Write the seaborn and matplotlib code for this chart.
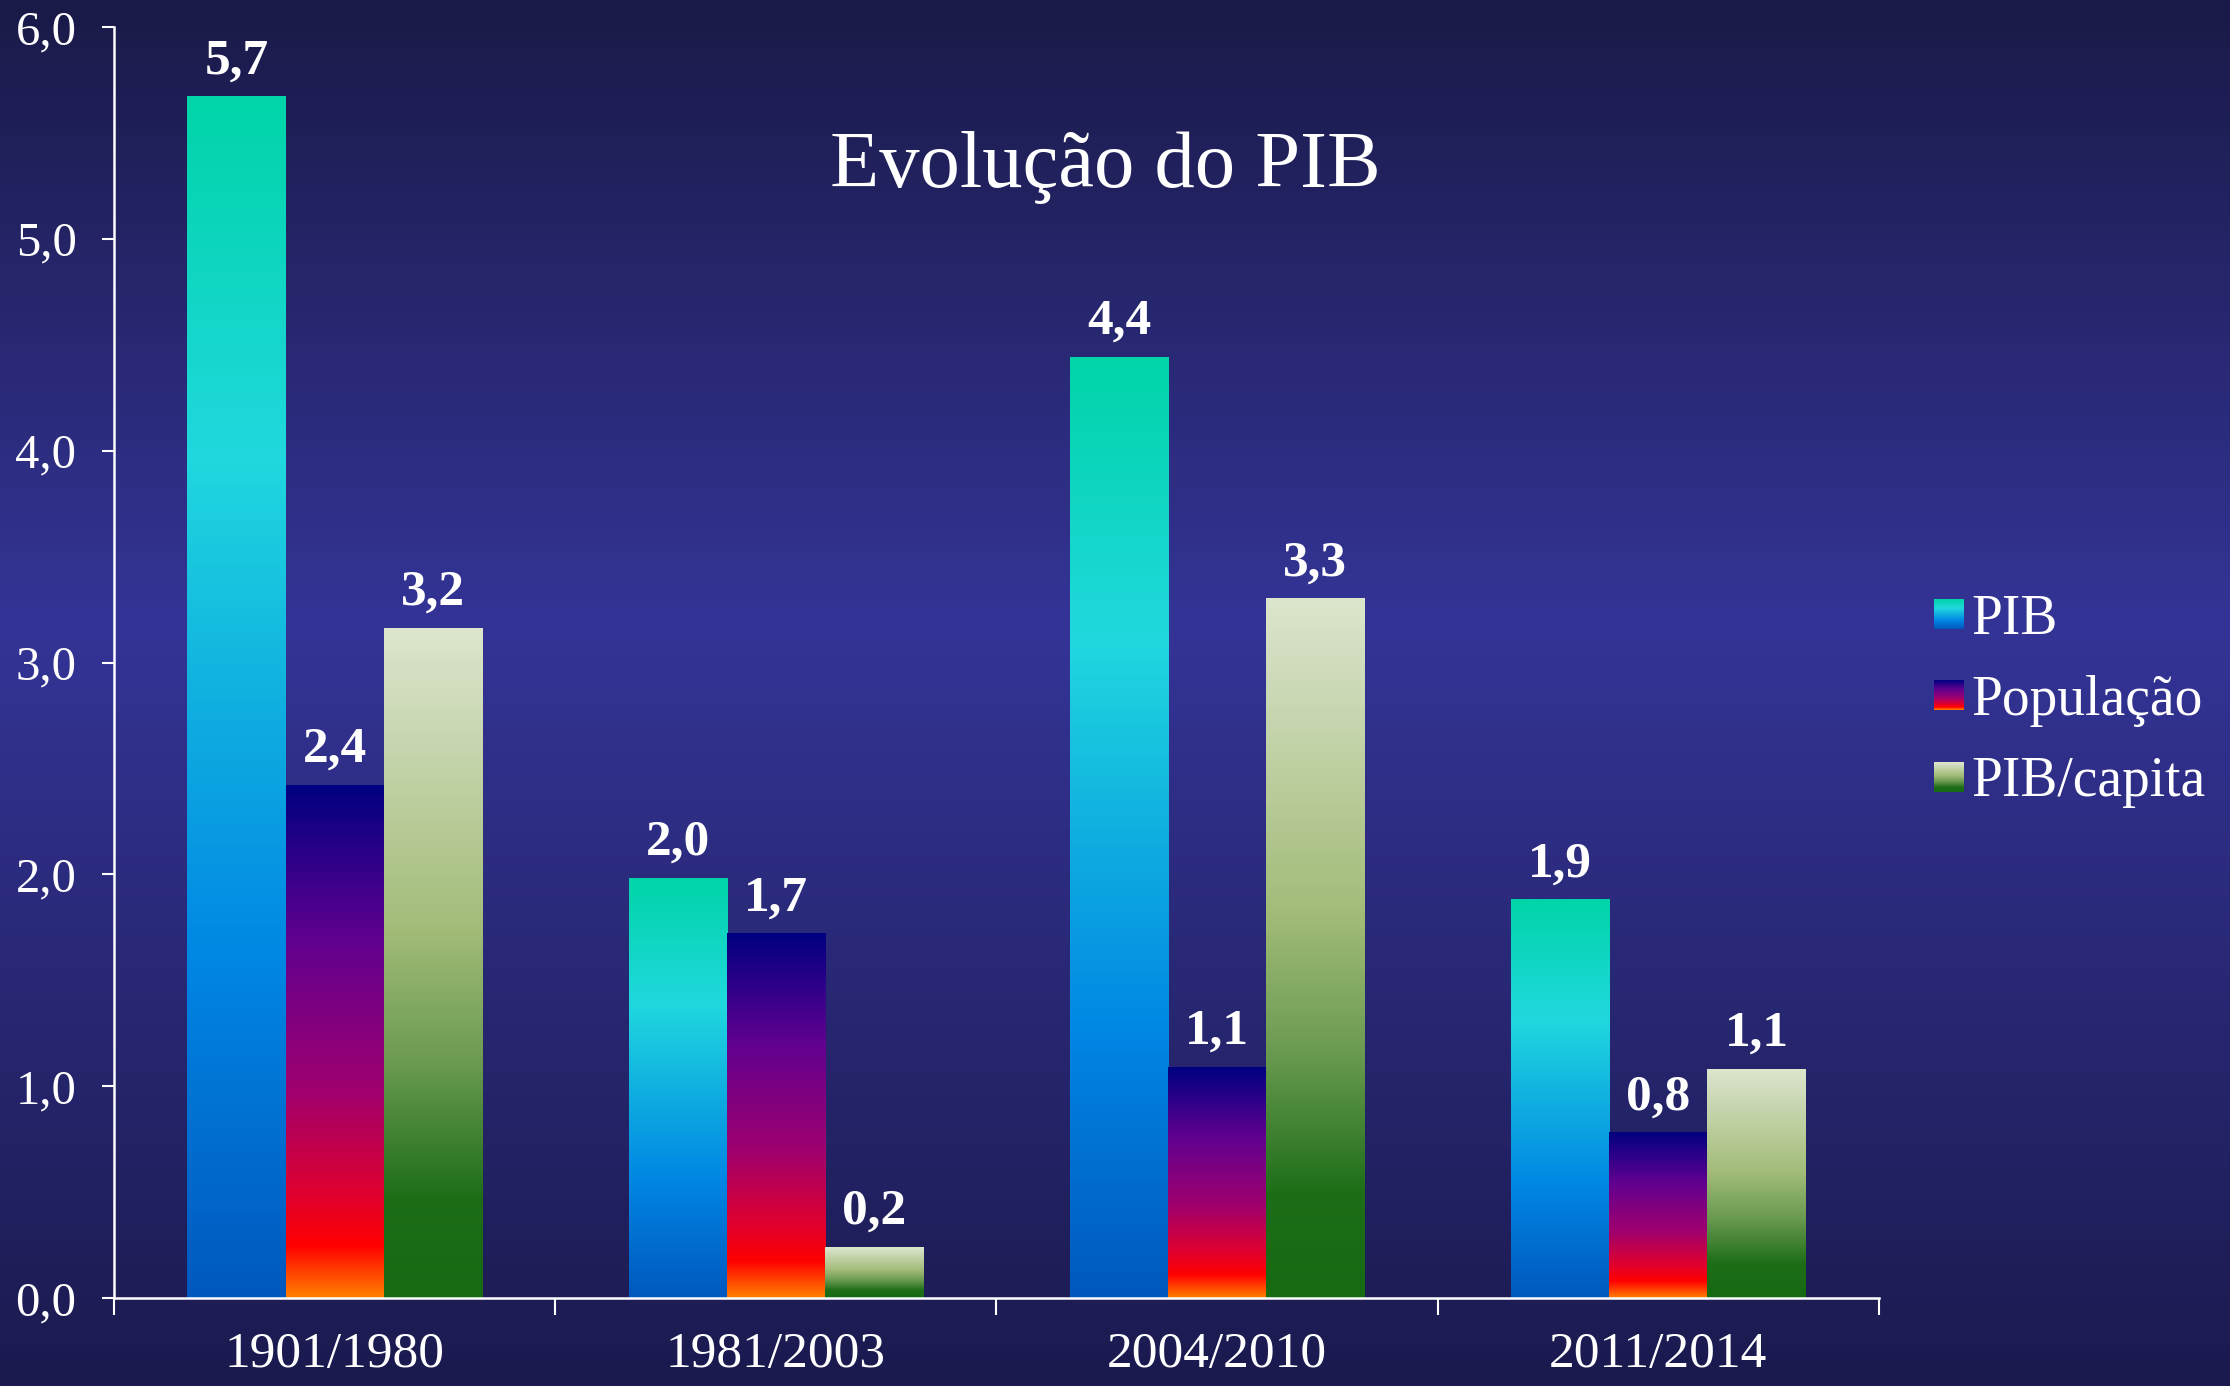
import numpy as np
import pandas as pd
import matplotlib.pyplot as plt
import seaborn as sns
from matplotlib.colors import LinearSegmentedColormap
from matplotlib.patches import Patch
from matplotlib.legend_handler import HandlerBase
from matplotlib.image import BboxImage
from matplotlib.transforms import Bbox, TransformedBbox

# ---------------------------
# DATA
# ---------------------------
periodos = ["1901/1980", "1981/2003", "2004/2010", "2011/2014"]
series = ["PIB", "População", "PIB/capita"]
pib = [5.67, 1.98, 4.44, 1.88]
populacao = [2.42, 1.72, 1.09, 0.78]
pib_capita = [3.16, 0.24, 3.30, 1.08]
y_ticks = [0, 1, 2, 3, 4, 5, 6]

df = pd.DataFrame({
    "periodo": periodos * 3,
    "serie": [s for s in series for _ in periodos],
    "valor": pib + populacao + pib_capita,
})

# ---------------------------
# GRADIENTS (bottom -> top)
# ---------------------------
cmaps = [
    LinearSegmentedColormap.from_list("pib", [
        (0.0, "#0058BE"), (0.28, "#0086E4"), (0.5, "#10B0E0"),
        (0.7, "#20D8DE"), (1.0, "#00D4A8")]),
    LinearSegmentedColormap.from_list("pop", [
        (0.0, "#FF8000"), (0.1, "#FF0000"), (0.2, "#E0002E"),
        (0.4, "#A0006E"), (0.7, "#600090"), (1.0, "#000080")]),
    LinearSegmentedColormap.from_list("cap", [
        (0.0, "#156A12"), (0.15, "#1E6E18"), (0.35, "#6A9A50"),
        (0.55, "#A2BC78"), (0.9, "#D0DCBC"), (1.0, "#DCE6CC")]),
]
bg_cmap = LinearSegmentedColormap.from_list("bg", [
    (0.0, "#1B1A4E"), (0.55, "#343497"), (1.0, "#1A1A48")])

grad = np.linspace(0, 1, 256).reshape(-1, 1)


class GradientHandler(HandlerBase):
    def __init__(self, cmap):
        super().__init__()
        self.cmap = cmap

    def create_artists(self, legend, orig_handle, xdescent, ydescent,
                       width, height, fontsize, trans):
        size = width
        y0 = -ydescent + (height - size) / 2
        bb = TransformedBbox(Bbox.from_bounds(-xdescent, y0, size, size), trans)
        img = BboxImage(bb, cmap=self.cmap, origin="lower", interpolation="bilinear")
        img.set_data(np.linspace(0, 1, 64).reshape(-1, 1))
        return [img]


sns.set_style("ticks")
plt.rcParams["font.family"] = ["Liberation Serif", "DejaVu Serif"]

fig = plt.figure(figsize=(22.3, 13.86), dpi=100)

# background gradient
bg = fig.add_axes([0, 0, 1, 1], zorder=-10)
bg.imshow(grad, cmap=bg_cmap, origin="lower", aspect="auto", extent=[0, 1, 0, 1])
bg.axis("off")

ax = fig.add_axes([114 / 2230, 1 - 1298 / 1386, 1765 / 2230, (1298 - 27) / 1386])
ax.set_facecolor("none")

sns.barplot(data=df, x="periodo", y="valor", hue="serie", hue_order=series,
            width=0.667, gap=0, saturation=1, legend=False, ax=ax)

for cont, cmap in zip(ax.containers, cmaps):
    for bar in cont:
        x0, y0 = bar.get_x(), bar.get_y()
        w, h = bar.get_width(), bar.get_height()
        ax.imshow(grad, cmap=cmap, origin="lower", aspect="auto",
                  extent=[x0, x0 + w, y0, y0 + h], zorder=2)
        bar.set_facecolor("none")
        bar.set_edgecolor("none")
    ax.bar_label(cont, labels=[f"{b.get_height():.1f}".replace(".", ",") for b in cont],
                 padding=9, color="white", fontsize=37, fontweight="bold")

ax.set_xlim(-0.5, 3.5)
ax.set_ylim(0, 6)

# axes styling
for side in ["top", "right"]:
    ax.spines[side].set_visible(False)
for side in ["left", "bottom"]:
    ax.spines[side].set_color("white")
    ax.spines[side].set_linewidth(1.8)

ax.set_yticks(y_ticks)
ax.set_yticklabels([f"{v:.1f}".replace(".", ",") for v in y_ticks])
ax.tick_params(axis="y", colors="white", labelsize=35, length=9, width=1.5, pad=18)

ax.set_xticks(range(len(periodos)))
ax.set_xticklabels(periodos)
ax.set_xticks(np.arange(-0.5, len(periodos), 1), minor=True)
ax.tick_params(axis="x", which="major", colors="white", labelsize=37, length=0, pad=24)
ax.tick_params(axis="x", which="minor", colors="white", length=12, width=1.5)
ax.set_xlabel("")
ax.set_ylabel("")

fig.text(1105 / 2230, 1 - 168 / 1386, "Evolução do PIB", ha="center", va="center",
         fontsize=58, color="white")

handles = [Patch(label=s) for s in series]
fig.legend(handles=handles, labels=series,
           handler_map={h: GradientHandler(c) for h, c in zip(handles, cmaps)},
           loc="center left", bbox_to_anchor=(1906 / 2230, 1 - 701 / 1386),
           frameon=False, fontsize=40, labelcolor="white", handlelength=0.53,
           handletextpad=0.15, labelspacing=0.53, borderpad=0)

fig.savefig("out.png", dpi=100)
